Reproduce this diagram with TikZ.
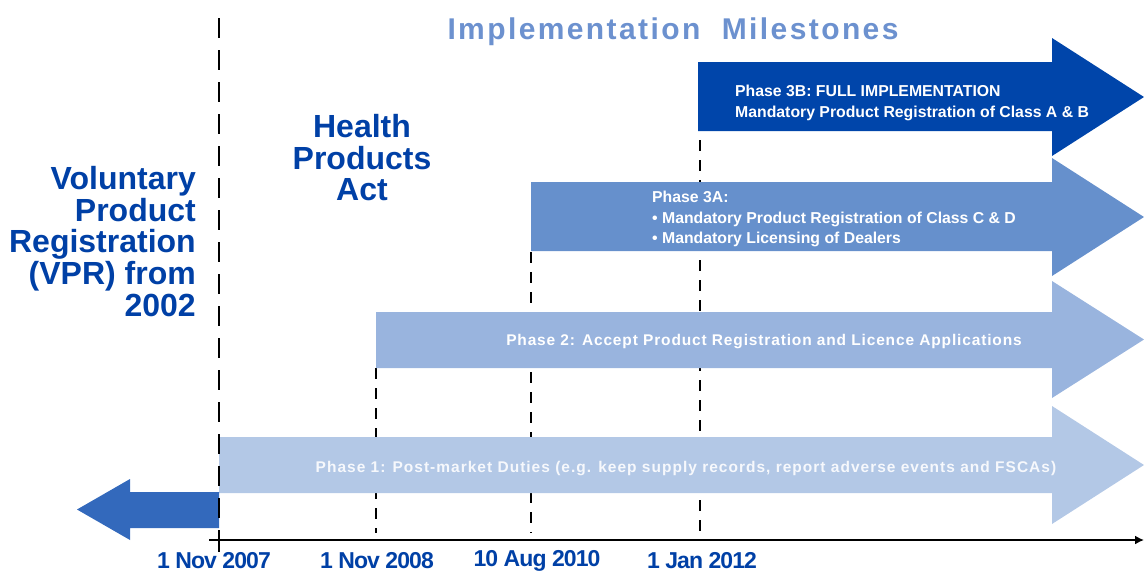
\documentclass[tikz,border=0pt]{standalone}
\usepackage{fontspec}
\setmainfont{Liberation Sans}
\usetikzlibrary{arrows.meta}
\definecolor{hsablue}{RGB}{0,64,166}
\definecolor{hsatitle}{RGB}{108,145,207}
\definecolor{phaseone}{RGB}{179,200,230}
\definecolor{phasetwo}{RGB}{153,180,222}
\definecolor{phasethreeA}{RGB}{102,144,204}
\definecolor{phasethreeB}{RGB}{0,69,170}
\definecolor{vprarrow}{RGB}{51,105,188}

\begin{document}
\begin{tikzpicture}[x=1pt,y=-1pt,
  phase/.style={font=\fontsize{15.8}{20.5}\selectfont\bfseries,text=white,inner sep=0pt},
  milestone/.style={line width=1.6pt,dash pattern=on 11pt off 9pt},
  datelabel/.style={font=\fontsize{23}{25}\selectfont\bfseries\addfontfeatures{LetterSpace=-4},text=hsablue,inner sep=0pt},
  bigblue/.style={font=\fontsize{32}{31.7}\selectfont\bfseries,text=hsablue,inner sep=0pt}]
\useasboundingbox (0,0) rectangle (1144,573);

\foreach \x/\top in {376/368,531/252,700/140}{
 \coordinate (m\x top) at (\x,\top);
 \coordinate (m\x bot) at (\x,533);
 \draw[milestone] (m\x top)--(m\x bot);
}

\foreach \x/\top/\bot/\htop/\hbot/\c in {219/437/493/406/524/phaseone,376/312/368/281/398/phasetwo,531/182/251/158/276/phasethreeA,698/62/131/38/156/phasethreeB}
 \fill[\c] (\x,\top)--(1052,\top)--(1052,\htop)--(1144,{(\htop+\hbot)/2})--(1052,\hbot)--(1052,\bot)--(\x,\bot)--cycle;
\fill[vprarrow] (219,492)--(130,492)--(130,479)--(77,509.5)--(130,540)--(130,528)--(219,528)--cycle;

\coordinate (hpa top) at (219,18);
\coordinate (hpa bot) at (219,530);
\draw[line width=1.6pt,dash pattern=on 20pt off 12pt] (hpa top)--(hpa bot);
\coordinate (tick top) at (219,530);
\coordinate (tick bot) at (219,552);
\draw[line width=1.6pt] (tick top)--(tick bot);

\coordinate (axis start) at (209,540);
\coordinate (axis end) at (1144,540);
\draw[line width=1.6pt,-{Latex[length=9pt,width=9pt]}] (axis start)--(axis end);

\node[font=\fontsize{30}{34}\selectfont\bfseries\addfontfeatures{LetterSpace=8},text=hsatitle] (title) at (673,32) {Implementation\ \ Milestones};
\node[bigblue,align=right,anchor=north east] (vpr) at (196,166) {Voluntary\\Product\\Registration\\(VPR) from\\2002};
\node[bigblue,align=center,anchor=north] (hpa) at (362,114) {Health\\Products\\Act};

\node[phase,align=left,anchor=north west] (p3b) at (735,85) {Phase 3B: FULL IMPLEMENTATION\\Mandatory Product Registration of Class A \& B};
\node[phase,align=left,anchor=north west] (p3a) at (652,191) {Phase 3A:\\\textbullet\ Mandatory Product Registration of Class C \& D\\\textbullet\ Mandatory Licensing of Dealers};
\node[phase,font=\fontsize{15.5}{18}\selectfont\bfseries\addfontfeatures{LetterSpace=5.5}] (p2) at (764,342) {Phase 2: Accept Product Registration and Licence Applications};
\node[phase,text=white!88!phaseone,font=\fontsize{15.5}{18}\selectfont\bfseries\addfontfeatures{LetterSpace=6.5}] (p1) at (686,469) {Phase 1: Post-market Duties (e.g. keep supply records, report adverse events and FSCAs)};

\foreach \x/\d/\n in {214/1 Nov 2007/a,377/1 Nov 2008/b,537/10 Aug 2010/c,702/1 Jan 2012/d}
 \node[datelabel] (date\n) at (\x,561) {\d};
\end{tikzpicture}
\end{document}
